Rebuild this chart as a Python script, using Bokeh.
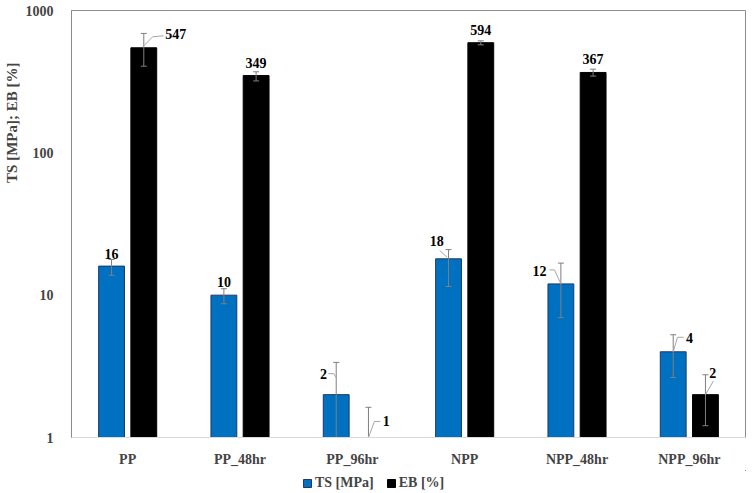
import math
from bokeh.plotting import figure
from bokeh.layouts import column
from bokeh.models import (FactorRange, Range1d, FixedTicker, Title, Legend, LegendItem,
                          ColumnDataSource, PrintfTickFormatter)
from bokeh.core.properties import value
from bokeh.embed import file_html
from bokeh.resources import INLINE

# ---------------- data ----------------
categories = ["PP", "PP_48hr", "PP_96hr", "NPP", "NPP_48hr", "NPP_96hr"]
ts_values = [16, 10, 2, 18, 12, 4]          # TS [MPa]
eb_values = [547, 349, 1, 594, 367, 2]      # EB [%]
ts_err_high = [17.8, 11.1, 3.37, 20.9, 16.8, 5.27]
ts_err_low = [13.8, 8.7, 0.6, 11.5, 6.95, 2.64]
eb_err_high = [690, 371, 1.63, 612, 387, 2.76]
eb_err_low = [406, 320, 0.4, 574, 346, 1.21]
y_ticks = [1, 10, 100, 1000]
series_names = ["TS [MPa]", "EB [%]"]

# ---------------- style ----------------
FONT = "Liberation Serif"
BLUE = "#0070C0"
BLUE_EDGE = "#1F3864"
BLACK = "#000000"
ERR_COLOR = "#7F7F7F"
LEADER_COLOR = "#A6A6A6"
BAR_W = 0.23
DODGE = 0.1435
PX_X = 113.5      # pixels per category
PX_DEC = 142.3    # pixels per decade

# label offsets in pixels (dx, dy screen, down positive) relative to bar-top centre
ts_label_off = [(0, -12), (0, -13), (-12.6, -21), (-11.7, -17.6), (-21.5, -13.3), (16.3, -14)]
eb_label_off = [(32, -14), (0, -13), (17.7, -16.3), (0, -13), (0, -13.5), (7.4, -22)]
ts_leaders = [None, None, [(-8, -21), (-2.5, -21), (0, -17)],
              [(-9, -8.3), (-1.4, -1.6)], [(-11.5, -14), (-6.5, -14), (0, 0)],
              [(0, 0), (4.3, -14.5), (10.6, -14.5)]]
eb_leaders = [[(0, -2), (9, -11), (20, -12)], None, [(0, 0), (6, -16), (12, -16)],
              None, None, [(0, 0), (8, -13.6)]]

p = figure(width=752, height=470,
           x_range=FactorRange(factors=categories, range_padding=0, factor_padding=0),
           y_range=Range1d(1, 1000), y_axis_type="log",
           output_backend="svg", toolbar_location=None,
           min_border_left=64, min_border_right=7, min_border_top=10, min_border_bottom=33)

x_ts = [i + 0.5 - DODGE for i in range(len(categories))]
x_eb = [i + 0.5 + DODGE for i in range(len(categories))]

p.vbar(x=x_ts, top=ts_values, bottom=1, width=BAR_W, fill_color=BLUE,
       line_color=BLUE_EDGE, line_width=1)
p.vbar(x=x_eb, top=eb_values, bottom=1, width=BAR_W, fill_color=BLACK,
       line_color=BLACK, line_width=1)

# error bars
for xs, hi, lo in ((x_ts, ts_err_high, ts_err_low), (x_eb, eb_err_high, eb_err_low)):
    p.segment(x0=xs, y0=lo, x1=xs, y1=hi, line_color=ERR_COLOR, line_width=1)
    p.scatter(x=xs + xs, y=hi + lo, marker="dash", size=6, line_color=ERR_COLOR, line_width=1)

# leader lines
lx, ly = [], []
for xs, vals, leaders in ((x_ts, ts_values, ts_leaders), (x_eb, eb_values, eb_leaders)):
    for x0, v, pts in zip(xs, vals, leaders):
        if pts is None:
            continue
        lx.append([x0 + dx / PX_X for dx, dy in pts])
        ly.append([v * 10 ** (-dy / PX_DEC) for dx, dy in pts])
p.multi_line(xs=lx, ys=ly, line_color=LEADER_COLOR, line_width=1)

# value labels
for xs, vals, offs in ((x_ts, ts_values, ts_label_off), (x_eb, eb_values, eb_label_off)):
    src = ColumnDataSource(dict(x=xs, y=vals, t=[str(v) for v in vals],
                                dx=[o[0] for o in offs], dy=[o[1] for o in offs]))
    p.text(x="x", y="y", text="t", x_offset="dx", y_offset="dy", source=src,
           text_font=value(FONT), text_font_style="bold",
           text_font_size="14px", text_align="center", text_baseline="middle",
           text_color="#000000")

# axes
p.xgrid.visible = False
p.ygrid.visible = False
p.outline_line_color = "#8C8C8C"
p.outline_line_width = 1

yax = p.yaxis[0]
yax.ticker = FixedTicker(ticks=y_ticks, minor_ticks=[])
yax.formatter = PrintfTickFormatter(format="%d")
yax.major_tick_line_color = None
yax.minor_tick_line_color = None
yax.axis_line_color = "#8C8C8C"
yax.major_label_text_font = FONT
yax.major_label_text_font_style = "bold"
yax.major_label_text_font_size = "14px"
yax.major_label_standoff = 12

xax = p.xaxis[0]
xax.major_tick_line_color = None
xax.minor_tick_line_color = None
xax.axis_line_color = "#D9D9D9"
xax.major_label_text_font = FONT
xax.major_label_text_font_style = "bold"
xax.major_label_text_font_size = "14px"
xax.major_label_standoff = 8

p.add_layout(Title(text="TS [MPa]; EB [%]", align="right", offset=52,
                   vertical_align="middle", standoff=4,
                   text_font=FONT, text_font_style="bold", text_font_size="15px"), "left")

# ---------------- legend strip ----------------
pl = figure(width=752, height=23, x_range=Range1d(0, 1), y_range=Range1d(0, 1),
            x_axis_location=None, y_axis_location=None,
            output_backend="svg", toolbar_location=None, min_border=0)
pl.grid.visible = False
pl.outline_line_color = None
# swatch renderers sit outside the visible range; only their legend glyphs show
sw_ts = pl.vbar(x=[5], top=[6], bottom=[5], width=0.1, fill_color=BLUE,
                line_color=BLUE_EDGE, line_width=1)
sw_eb = pl.vbar(x=[5], top=[6], bottom=[5], width=0.1, fill_color=BLACK,
                line_color=BLACK, line_width=1)
legend = Legend(items=[LegendItem(label=series_names[0], renderers=[sw_ts]),
                       LegendItem(label=series_names[1], renderers=[sw_eb])],
                orientation="horizontal", location=(231, 2),
                glyph_width=10, glyph_height=10, label_standoff=3, spacing=12,
                padding=0, margin=0, border_line_color=None, background_fill_alpha=0,
                label_text_font=FONT, label_text_font_style="bold",
                label_text_font_size="14px")
pl.add_layout(legend, "center")

layout = column(p, pl, spacing=0)
open("out.html", "w").write(file_html(layout, INLINE))
